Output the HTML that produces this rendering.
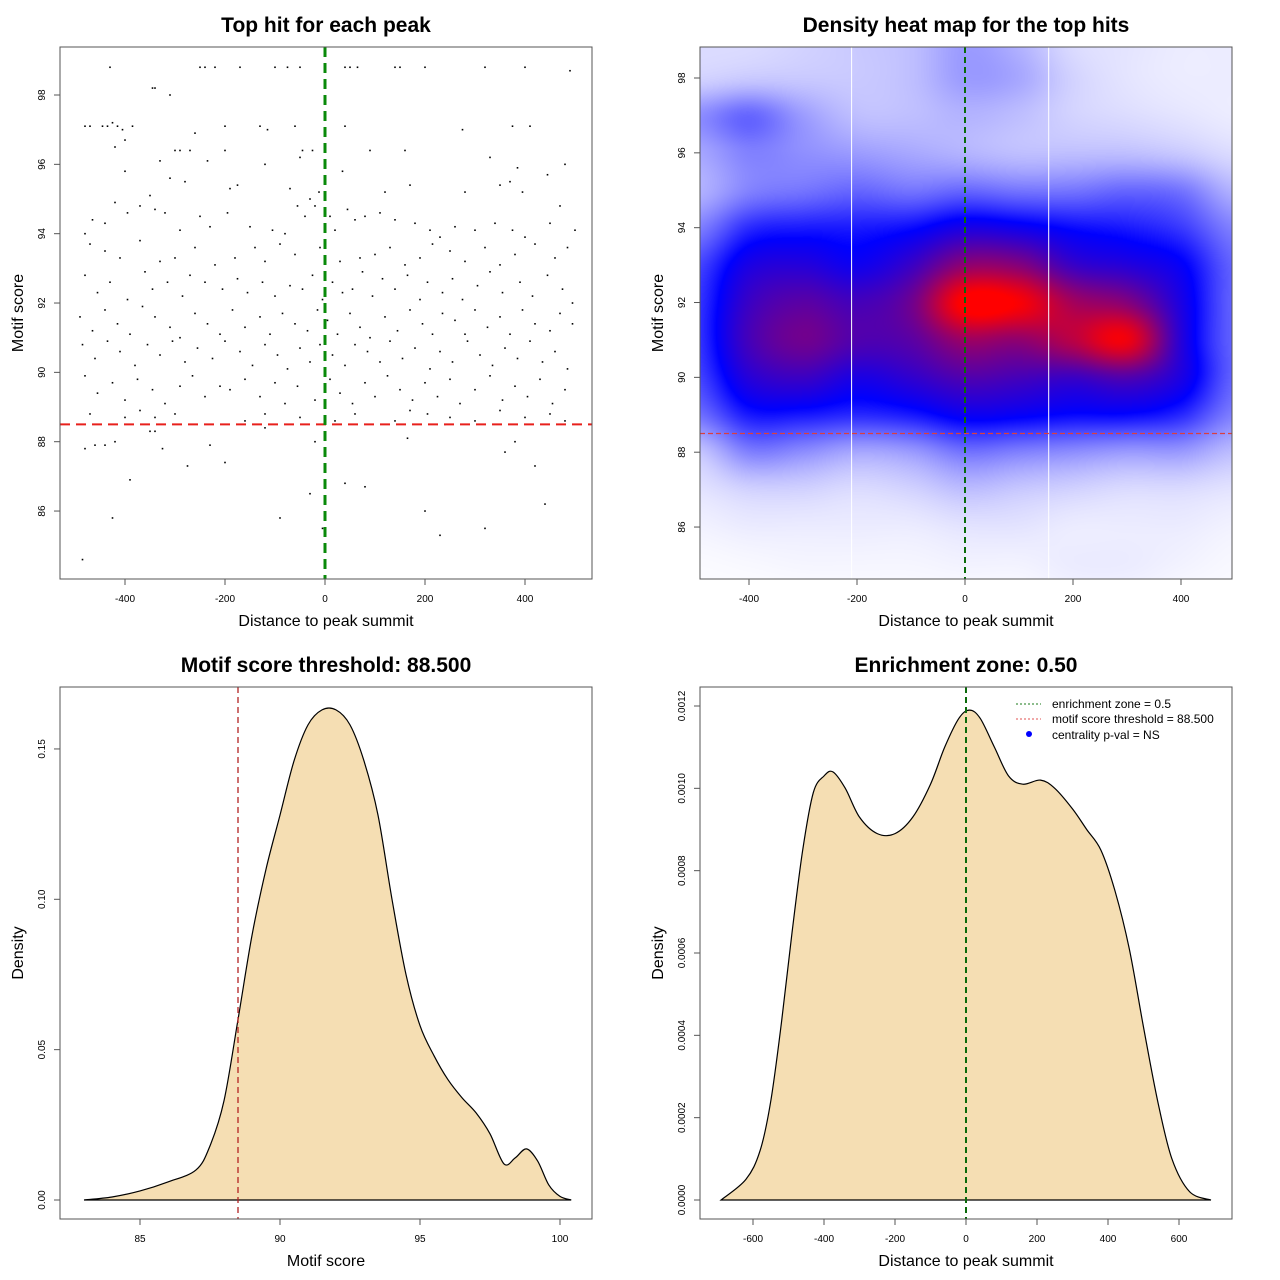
<!DOCTYPE html>
<html><head><meta charset="utf-8">
<style>
html,body{margin:0;padding:0;background:#fff;}
#wrap{position:relative;width:1280px;height:1280px;overflow:hidden;font-family:"Liberation Sans",sans-serif;}
#heat{position:absolute;left:700px;top:47px;}
svg{position:absolute;left:0;top:0;}
</style></head>
<body>
<div id="wrap">
<canvas id="heat" width="532" height="532"></canvas>
<svg id="svg" width="1280" height="1280" xmlns="http://www.w3.org/2000/svg"></svg>
</div>
<script>
// ---------- data ----------
const scatterPts = [
[-430,98.8],[-250,98.8],[-240,98.8],[-220,98.8],[-170,98.8],[-100,98.8],[-75,98.8],[-50,98.8],[40,98.8],[50,98.8],[65,98.8],[140,98.8],[150,98.8],[200,98.8],[320,98.8],[400,98.8],[490,98.7],
[-345,98.2],[-340,98.2],[-310,98],
[-480,97.1],[-470,97.1],[-445,97.1],[-435,97.1],[-425,97.2],[-415,97.1],[-405,97],[-385,97.1],[-200,97.1],[-130,97.1],[-115,97],[-60,97.1],[40,97.1],[275,97],[375,97.1],[410,97.1],[-260,96.9],[-400,96.7],
[-420,96.5],[-330,96.1],[-300,96.4],[-290,96.4],[-270,96.4],[-235,96.1],[-200,96.4],[-120,96],[-45,96.4],[-25,96.4],[-50,96.2],[160,96.4],[35,95.8],[90,96.4],[330,96.2],[385,95.9],[445,95.7],[480,96],[-400,95.8],[-310,95.6],[-175,95.4],[-190,95.3],[120,95.2],[170,95.4],[280,95.2],[350,95.4],[370,95.5],[395,95.2],[-350,95.1],[-280,95.5],[-70,95.3],[-30,95],[-12,95.2],[-55,94.8],[10,94.5],
[-480,94],[-465,94.4],[-440,94.3],[-420,94.9],[-395,94.6],[-370,94.8],[-340,94.7],[-320,94.6],[-290,94.1],[-250,94.5],[-230,94.2],[-195,94.6],[-150,94.2],[-105,94.1],[-80,94],[-40,94.5],[-20,94.8],[20,94.1],[45,94.7],[60,94.4],[80,94.5],[110,94.6],[140,94.4],[180,94.3],[210,94.1],[230,93.9],[260,94.2],[300,94.1],[340,94.3],[375,94.1],[400,93.9],[450,94.3],[470,94.8],[500,94.1],[-470,93.7],[-440,93.5],[-410,93.3],[-370,93.8],[-330,93.2],[-300,93.3],[-260,93.6],[-220,93.1],[-180,93.3],[-140,93.6],[-120,93.2],[-90,93.7],[-60,93.4],[-10,93.6],[30,93.2],[70,93.3],[100,93.4],[130,93.6],[160,93.1],[190,93.3],[215,93.7],[250,93.5],[280,93.2],[320,93.6],[350,93.1],[380,93.4],[420,93.7],[460,93.3],[485,93.6],
[-480,92.8],[-455,92.3],[-430,92.6],[-395,92.1],[-360,92.9],[-345,92.4],[-315,92.6],[-285,92.2],[-270,92.8],[-240,92.6],[-205,92.4],[-175,92.7],[-155,92.3],[-125,92.6],[-100,92.2],[-70,92.5],[-45,92.4],[-25,92.8],[-5,92.1],[15,92.6],[35,92.3],[55,92.4],[75,92.9],[95,92.2],[115,92.7],[140,92.4],[165,92.8],[190,92.1],[205,92.6],[235,92.3],[255,92.7],[275,92.1],[305,92.5],[330,92.9],[355,92.3],[390,92.6],[415,92.2],[445,92.8],[475,92.4],[495,92],
[-490,91.6],[-465,91.2],[-440,91.8],[-415,91.4],[-390,91.1],[-365,91.9],[-340,91.6],[-310,91.3],[-290,91],[-260,91.7],[-235,91.4],[-210,91.1],[-185,91.8],[-160,91.3],[-130,91.6],[-110,91.1],[-85,91.7],[-60,91.4],[-35,91.2],[-15,91.8],[5,91.5],[25,91.1],[50,91.7],[70,91.3],[90,91],[120,91.6],[145,91.2],[170,91.8],[195,91.4],[215,91.1],[235,91.7],[260,91.5],[280,91.1],[300,91.8],[325,91.3],[350,91.6],[370,91.1],[395,91.8],[420,91.4],[450,91.2],[470,91.7],[495,91.4],
[-485,90.8],[-460,90.4],[-435,90.9],[-410,90.6],[-380,90.2],[-355,90.8],[-330,90.5],[-305,90.9],[-280,90.3],[-255,90.7],[-225,90.4],[-200,90.9],[-170,90.6],[-145,90.2],[-120,90.8],[-95,90.5],[-75,90.1],[-50,90.7],[-30,90.3],[-10,90.8],[15,90.5],[40,90.2],[60,90.8],[85,90.6],[110,90.3],[130,90.9],[155,90.4],[180,90.7],[210,90.1],[230,90.6],[255,90.3],[285,90.9],[310,90.5],[335,90.2],[360,90.7],[385,90.4],[410,90.9],[435,90.3],[460,90.6],[485,90.1],
[-480,89.9],[-455,89.4],[-425,89.7],[-400,89.2],[-375,89.8],[-345,89.5],[-320,89.1],[-290,89.6],[-265,89.9],[-240,89.3],[-210,89.6],[-190,89.5],[-160,89.8],[-130,89.3],[-100,89.7],[-80,89.1],[-55,89.6],[-20,89.2],[10,89.8],[30,89.4],[55,89.1],[80,89.7],[100,89.3],[125,89.9],[150,89.5],[175,89.2],[200,89.7],[225,89.3],[250,89.8],[270,89.1],[300,89.5],[330,89.9],[355,89.2],[380,89.6],[405,89.3],[430,89.8],[455,89.1],[480,89.5],
[-470,88.8],[-400,88.7],[-370,88.9],[-340,88.7],[-300,88.8],[-160,88.6],[-120,88.8],[-50,88.7],[20,88.6],[60,88.8],[140,88.6],[170,88.9],[205,88.8],[250,88.7],[300,88.6],[350,88.9],[400,88.7],[450,88.8],[480,88.6],
[-480,87.8],[-460,87.9],[-440,87.9],[-420,88],[-350,88.3],[-340,88.3],[-325,87.8],[-275,87.3],[-230,87.9],[-200,87.4],[-120,88.4],[-20,88],[40,86.8],[80,86.7],[165,88.1],[200,86],[230,85.3],[240,88.5],[320,85.5],[360,87.7],[380,88],[420,87.3],[440,86.2],[-390,86.9],[-425,85.8],[-90,85.8],[-485,84.6],[-30,86.5],[-5,85.5]
];
// heatmap density grid: columns x, rows y (top to bottom)
const heatX = [-500,-400,-300,-200,-100,0,100,200,300,400,500];
const heatY = [99,98,97,96,95,94,93,92,91,90,89,88,87,86,85,84];
const heatZ = [
[0.12,0.12,0.14,0.16,0.18,0.24,0.20,0.12,0.10,0.08,0.08],
[0.14,0.16,0.16,0.16,0.18,0.24,0.22,0.14,0.10,0.08,0.08],
[0.26,0.32,0.24,0.18,0.18,0.20,0.18,0.14,0.12,0.10,0.08],
[0.22,0.28,0.26,0.24,0.22,0.20,0.18,0.18,0.18,0.16,0.12],
[0.20,0.28,0.30,0.32,0.30,0.32,0.30,0.30,0.32,0.30,0.20],
[0.28,0.40,0.42,0.42,0.44,0.50,0.48,0.44,0.42,0.38,0.28],
[0.36,0.50,0.52,0.48,0.56,0.72,0.70,0.56,0.52,0.46,0.32],
[0.38,0.56,0.62,0.58,0.66,0.95,0.92,0.76,0.70,0.50,0.32],
[0.38,0.58,0.66,0.60,0.62,0.74,0.72,0.80,0.90,0.52,0.32],
[0.36,0.52,0.56,0.50,0.54,0.60,0.58,0.56,0.60,0.50,0.32],
[0.30,0.42,0.42,0.40,0.42,0.47,0.46,0.44,0.44,0.40,0.28],
[0.16,0.28,0.26,0.22,0.24,0.30,0.28,0.26,0.24,0.24,0.18],
[0.10,0.14,0.14,0.12,0.14,0.18,0.16,0.14,0.12,0.12,0.10],
[0.06,0.08,0.08,0.08,0.08,0.10,0.10,0.08,0.08,0.08,0.06],
[0.03,0.04,0.05,0.05,0.05,0.06,0.06,0.08,0.08,0.06,0.04],
[0.02,0.02,0.02,0.03,0.03,0.03,0.03,0.05,0.05,0.03,0.03]
];
const scoreDensX = [83,84,85,86,87,87.5,88,88.5,89,89.5,90,90.5,91,91.5,92,92.5,93,93.5,94,94.5,95,95.5,96,96.5,97,97.5,98,98.4,98.8,99.2,99.6,100,100.4];
const scoreDensY = [0,0.001,0.003,0.006,0.010,0.018,0.033,0.060,0.088,0.110,0.128,0.146,0.158,0.163,0.163,0.158,0.146,0.128,0.100,0.075,0.058,0.048,0.040,0.034,0.029,0.022,0.012,0.014,0.017,0.013,0.005,0.0012,0];
const distDensX = [-690,-620,-580,-550,-520,-490,-460,-430,-400,-375,-340,-300,-250,-200,-150,-100,-60,-20,10,40,80,120,160,210,250,300,340,380,420,460,500,540,580,630,690];
const distDensY = [0,0.00005,0.00012,0.00024,0.00043,0.00065,0.00085,0.00099,0.00103,0.00104,0.00100,0.00093,0.00089,0.00089,0.00093,0.00101,0.00110,0.00117,0.00119,0.00117,0.00110,0.00103,0.00101,0.00102,0.00100,0.00095,0.00090,0.00085,0.00075,0.00061,0.00042,0.00024,0.00010,0.00002,0];
const p1XTicks = [-400,-200,0,200,400];
const p1YTicks = [86,88,90,92,94,96,98];
const p3XTicks = [85,90,95,100];
const p3YTicks = [0,0.05,0.10,0.15];
const p3YLabels = ["0.00","0.05","0.10","0.15"];
const p4XTicks = [-600,-400,-200,0,200,400,600];
const p4YTicks = [0,0.0002,0.0004,0.0006,0.0008,0.0010,0.0012];
const p4YLabels = ["0.0000","0.0002","0.0004","0.0006","0.0008","0.0010","0.0012"];
const threshold = 88.5;

// ---------- scales ----------
const NS="http://www.w3.org/2000/svg";
const svg=document.getElementById('svg');
function mk(tag,attrs,parent,name){const e=document.createElementNS(NS,tag);for(const k in attrs)e.setAttribute(k,attrs[k]);


(parent||svg).appendChild(e);return e;}
function txt(s,x,y,size,opts,name){opts=opts||{};const e=mk('text',{x:x,y:y,'font-size':size,'text-anchor':opts.anchor||'middle','font-weight':opts.bold?'bold':'normal',fill:'#000','font-family':'"Liberation Sans",sans-serif'},null,name);
if(opts.rot)e.setAttribute('transform','rotate(-90 '+x+' '+y+')');e.textContent=s;return e;}
const P1={x:v=>325+v*0.5,y:v=>95+(98-v)*34.67,L:60,T:47,R:592,B:579};
const P2={x:v=>965+v*0.54,y:v=>78+(98-v)*37.42,L:700,T:47,R:1232,B:579};
const P3={x:v=>140+(v-85)*28,y:v=>1200-v*3007,L:60,T:687,R:592,B:1219};
const P4={x:v=>966+v*0.355,y:v=>1200-v*411667,L:700,T:687,R:1232,B:1219};

function axes(P,xt,xl,yt,yl,title,xtitle,ytitle,prefix){
  mk('rect',{x:P.L,y:P.T,width:P.R-P.L,height:P.B-P.T,fill:'none',stroke:'#555','stroke-width':1},null,prefix+'-plot-frame');
  xt.forEach((v,i)=>{const X=P.x(v);mk('line',{x1:X,y1:P.B,x2:X,y2:P.B+6,stroke:'#555'},null,prefix+'-x-tick');
    txt(xl[i],X,P.B+23,10,{},prefix+'-x-tick-label');});
  yt.forEach((v,i)=>{const Y=P.y(v);mk('line',{x1:P.L-6,y1:Y,x2:P.L,y2:Y,stroke:'#555'},null,prefix+'-y-tick');
    txt(yl[i],P.L-15,Y,10,{rot:true},prefix+'-y-tick-label');});
  txt(title,(P.L+P.R)/2,P.T-15,21,{bold:true},prefix+'-title');
  txt(xtitle,(P.L+P.R)/2,P.B+47,16,{},prefix+'-x-axis-title');
  txt(ytitle,P.L-37,(P.T+P.B)/2,16,{rot:true},prefix+'-y-axis-title');
}
function smoothPath(P,xs,ys){let pts=xs.map((x,i)=>[P.x(x),P.y(ys[i])]);let d='M'+pts[0][0]+','+pts[0][1];
  for(let i=0;i<pts.length-1;i++){const p0=pts[Math.max(0,i-1)],p1=pts[i],p2=pts[i+1],p3=pts[Math.min(pts.length-1,i+2)];
    const c1=[p1[0]+(p2[0]-p0[0])/6,p1[1]+(p2[1]-p0[1])/6],c2=[p2[0]-(p3[0]-p1[0])/6,p2[1]-(p3[1]-p1[1])/6];
    d+=' C'+c1[0]+','+c1[1]+' '+c2[0]+','+c2[1]+' '+p2[0]+','+p2[1];}return d;}

// ---------- panel 1 ----------
scatterPts.forEach(p=>{mk('rect',{x:P1.x(p[0])-0.8,y:P1.y(p[1])-0.8,width:1.6,height:1.6,fill:'#000'},null,'scatter-point');});
mk('line',{x1:P1.L,x2:P1.R,y1:P1.y(threshold),y2:P1.y(threshold),stroke:'#e8201c','stroke-width':2,'stroke-dasharray':'10,6'},null,'threshold-line');
mk('line',{x1:P1.x(0),x2:P1.x(0),y1:P1.T,y2:P1.B,stroke:'#0a8a0a','stroke-width':3,'stroke-dasharray':'10,6'},null,'summit-line');
axes(P1,p1XTicks,p1XTicks.map(String),p1YTicks,p1YTicks.map(String),'Top hit for each peak','Distance to peak summit','Motif score','p1');

// ---------- panel 2 heatmap ----------
(function(){const c=document.getElementById('heat'),ctx=c.getContext('2d');const W=532,H=532;const img=ctx.createImageData(W,H);
  const xs=heatX,ys=heatY,nx=xs.length,ny=ys.length;
  function cr(p0,p1,p2,p3,t){return p1+0.5*t*(p2-p0+t*(2*p0-5*p1+4*p2-p3+t*(3*(p1-p2)+p3-p0)));}
  function Z(j,i){j=Math.max(0,Math.min(ny-1,j));i=Math.max(0,Math.min(nx-1,i));return heatZ[j][i];}
  function interp(xv,yv){let fx=(xv-xs[0])/(xs[1]-xs[0]);let fy=(ys[0]-yv)/(ys[0]-ys[1]);
    fx=Math.max(0,Math.min(nx-1.0001,fx));fy=Math.max(0,Math.min(ny-1.0001,fy));
    const i=Math.floor(fx),j=Math.floor(fy),tx=fx-i,ty=fy-j;const r=[];
    for(let k=-1;k<=2;k++)r.push(cr(Z(j+k,i-1),Z(j+k,i),Z(j+k,i+1),Z(j+k,i+2),tx));
    return cr(r[0],r[1],r[2],r[3],ty);}
  for(let py=0;py<H;py++){const yv=98-(py+47-78)/37.42;for(let px=0;px<W;px++){const xv=(px+700-965)/0.54;const t=Math.max(0,interp(xv,yv));let r,g,b;
    if(t<0.45){const s=Math.pow(t/0.45,1.5);r=255*(1-s);g=255*(1-s);b=255;}else{const s=Math.min(1,(t-0.45)/0.48);r=255*s;g=0;b=255*(1-s);}
    const k=(py*W+px)*4;img.data[k]=r;img.data[k+1]=g;img.data[k+2]=b;img.data[k+3]=255;}}
  ctx.putImageData(img,0,0);})();
[-210,155].forEach(v=>mk('line',{x1:P2.x(v),x2:P2.x(v),y1:P2.T,y2:P2.B,stroke:'#fff','stroke-width':1},null,'heatmap-seam'));
mk('line',{x1:P2.L,x2:P2.R,y1:P2.y(threshold),y2:P2.y(threshold),stroke:'#d94040','stroke-width':1.2,'stroke-dasharray':'5,3'},null,'threshold-line');
mk('line',{x1:P2.x(0),x2:P2.x(0),y1:P2.T,y2:P2.B,stroke:'#0a6a0a','stroke-width':2,'stroke-dasharray':'6,4'},null,'summit-line');
axes(P2,p1XTicks,p1XTicks.map(String),p1YTicks,p1YTicks.map(String),'Density heat map for the top hits','Distance to peak summit','Motif score','p2');

// ---------- panel 3 ----------
mk('path',{d:smoothPath(P3,scoreDensX,scoreDensY)+' Z',fill:'#f5deb3',stroke:'#000','stroke-width':1.2},null,'score-density-curve');
mk('line',{x1:P3.x(threshold),x2:P3.x(threshold),y1:P3.T,y2:P3.B,stroke:'#b22222','stroke-width':1.3,'stroke-dasharray':'6,4'},null,'threshold-line');
axes(P3,p3XTicks,p3XTicks.map(String),p3YTicks,p3YLabels,'Motif score threshold: 88.500','Motif score','Density','p3');

// ---------- panel 4 ----------
mk('path',{d:smoothPath(P4,distDensX,distDensY)+' Z',fill:'#f5deb3',stroke:'#000','stroke-width':1.2},null,'distance-density-curve');
mk('line',{x1:P4.x(0),x2:P4.x(0),y1:P4.T,y2:P4.B,stroke:'#0a6a0a','stroke-width':2,'stroke-dasharray':'6,4'},null,'summit-line');
axes(P4,p4XTicks,p4XTicks.map(String),p4YTicks,p4YLabels,'Enrichment zone: 0.50','Distance to peak summit','Density','p4');
// legend
const lg=mk('g',{},null,'legend');
mk('line',{x1:1016,x2:1041,y1:704,y2:704,stroke:'#1a7a1a','stroke-width':1,'stroke-dasharray':'2,2'},lg,'legend-line-enrichment');
mk('line',{x1:1016,x2:1041,y1:719,y2:719,stroke:'#e05050','stroke-width':1,'stroke-dasharray':'2,2'},lg,'legend-line-threshold');
mk('circle',{cx:1029,cy:734,r:3,fill:'#0000ff'},lg,'legend-dot-centrality');
txt('enrichment zone = 0.5',1052,708,12,{anchor:'start'},'legend-entry-enrichment');
txt('motif score threshold = 88.500',1052,723,12,{anchor:'start'},'legend-entry-threshold');
txt('centrality p-val = NS',1052,739,12,{anchor:'start'},'legend-entry-centrality');
</script>
</body></html>
